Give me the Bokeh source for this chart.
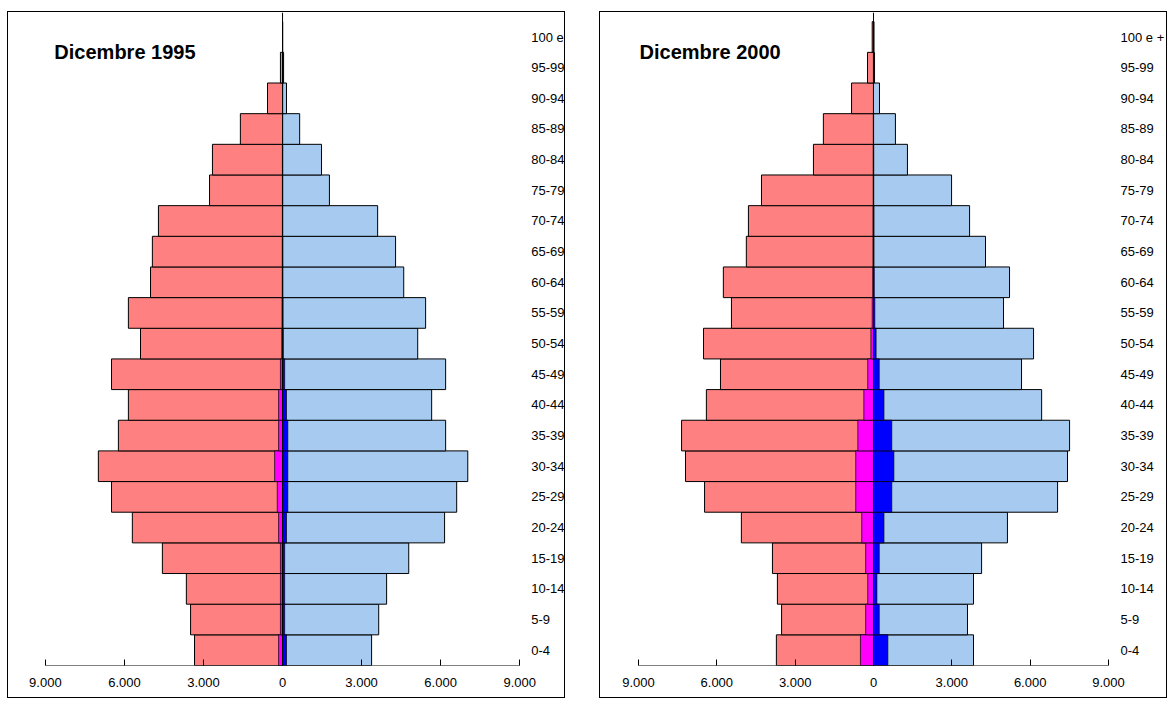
from bokeh.plotting import figure
from bokeh.layouts import row
from bokeh.models import FixedTicker, Range1d, Label, LabelSet, ColumnDataSource
from bokeh.core.properties import value
from bokeh.embed import file_html
from bokeh.resources import INLINE

ages = ["0-4","5-9","10-14","15-19","20-24","25-29","30-34","35-39","40-44","45-49",
        "50-54","55-59","60-64","65-69","70-74","75-79","80-84","85-89","90-94","95-99","100 e +"]

f1995 = [3340,3490,3650,4560,5700,6490,6990,6230,5850,6490,5390,5850,5010,4940,4710,2770,2660,1600,570,80,0]
m1995 = [3380,3650,3950,4790,6150,6610,7030,6190,5660,6190,5130,5430,4600,4290,3610,1780,1480,650,150,40,0]
ff1995 = [150,80,80,80,150,200,300,150,150,80,30,20,10,10,5,5,5,0,0,0,0]
fm1995 = [150,80,80,80,150,200,200,200,150,80,30,20,10,10,5,5,5,0,0,0,0]

f2000 = [3720,3520,3680,3870,5060,6470,7200,7350,6400,5860,6510,5440,5750,4870,4790,4290,2300,1920,840,230,50]
m2000 = [3830,3600,3830,4140,5130,7050,7430,7510,6440,5670,6130,4980,5210,4290,3680,2990,1300,840,230,40,20]
ff2000 = [500,300,220,300,450,680,680,600,370,220,100,50,30,20,20,10,10,5,0,0,0]
fm2000 = [550,220,130,220,400,700,780,700,400,220,100,50,30,20,20,10,10,5,0,0,0]

ticks = [-9000,-6000,-3000,0,3000,6000,9000]
tick_labels = {t: ("0" if t == 0 else f"{abs(t)//1000}.000") for t in ticks}
FONT = "Liberation Sans"
YTOP = 21.3

def panel(title, f, m, ff, fm, width, xl, xr, labx, titx):
    p = figure(width=width, height=687, output_backend="svg", toolbar_location=None,
               x_range=Range1d(xl, xr), y_range=Range1d(0, YTOP),
               min_border_left=0, min_border_right=0, min_border_top=0, min_border_bottom=34)
    p.styles = {"border": "1px solid black"}
    p.outline_line_color = None
    p.grid.visible = False
    p.yaxis.visible = False
    bottoms = list(range(len(ages)))
    tops = [b + 1 for b in bottoms]
    p.quad(left=[-v for v in f], right=[0]*len(f), bottom=bottoms, top=tops,
           fill_color="#ff8080", line_color="black", line_width=1)
    p.quad(left=[0]*len(m), right=m, bottom=bottoms, top=tops,
           fill_color="#a6caf0", line_color="black", line_width=1)
    p.quad(left=[-v for v in ff], right=[0]*len(ff), bottom=bottoms, top=tops,
           fill_color="#ff00ff", line_color="black", line_width=0.7)
    p.quad(left=[0]*len(fm), right=fm, bottom=bottoms, top=tops,
           fill_color="#0000ff", line_color="black", line_width=0.7)
    p.segment(x0=[0], x1=[0], y0=[0], y1=[YTOP], line_color="black", line_width=1)
    p.segment(x0=[ticks[0]], x1=[ticks[-1]], y0=[0], y1=[0], line_color="black", line_width=1)
    src = ColumnDataSource(dict(x=[labx]*len(ages), y=[b + 0.5 for b in bottoms], t=ages))
    p.add_layout(LabelSet(x="x", y="y", text="t", source=src, text_font=value(FONT),
                          text_font_size=value("13px"), text_baseline="middle", text_align="left",
                          text_color="black"))
    p.add_layout(Label(x=titx, y=20.0, text=title, text_font=FONT, text_font_size="20px",
                       text_font_style="bold", text_baseline="middle", text_color="black"))
    ax = p.xaxis[0]
    ax.ticker = FixedTicker(ticks=ticks)
    ax.major_label_overrides = tick_labels
    ax.minor_tick_line_color = None
    ax.major_tick_in = 6
    ax.major_tick_out = 0
    ax.major_label_standoff = 12
    ax.major_label_text_font = FONT
    ax.major_label_text_font_size = "13px"
    ax.major_label_text_color = "black"
    ax.axis_line_color = None
    ax.major_tick_line_color = "black"
    return p

p1 = panel("Dicembre 1995", f1995, m1995, ff1995, fm1995, 558, -10400, 10777, 9440, -8660)
p2 = panel("Dicembre 2000", f2000, m2000, ff2000, fm2000, 568, -10455, 11298, 9460, -8960)
layout = row(p1, p2, spacing=34, margin=(11, 0, 0, 7))
open("out.html", "w").write(file_html(layout, INLINE))
